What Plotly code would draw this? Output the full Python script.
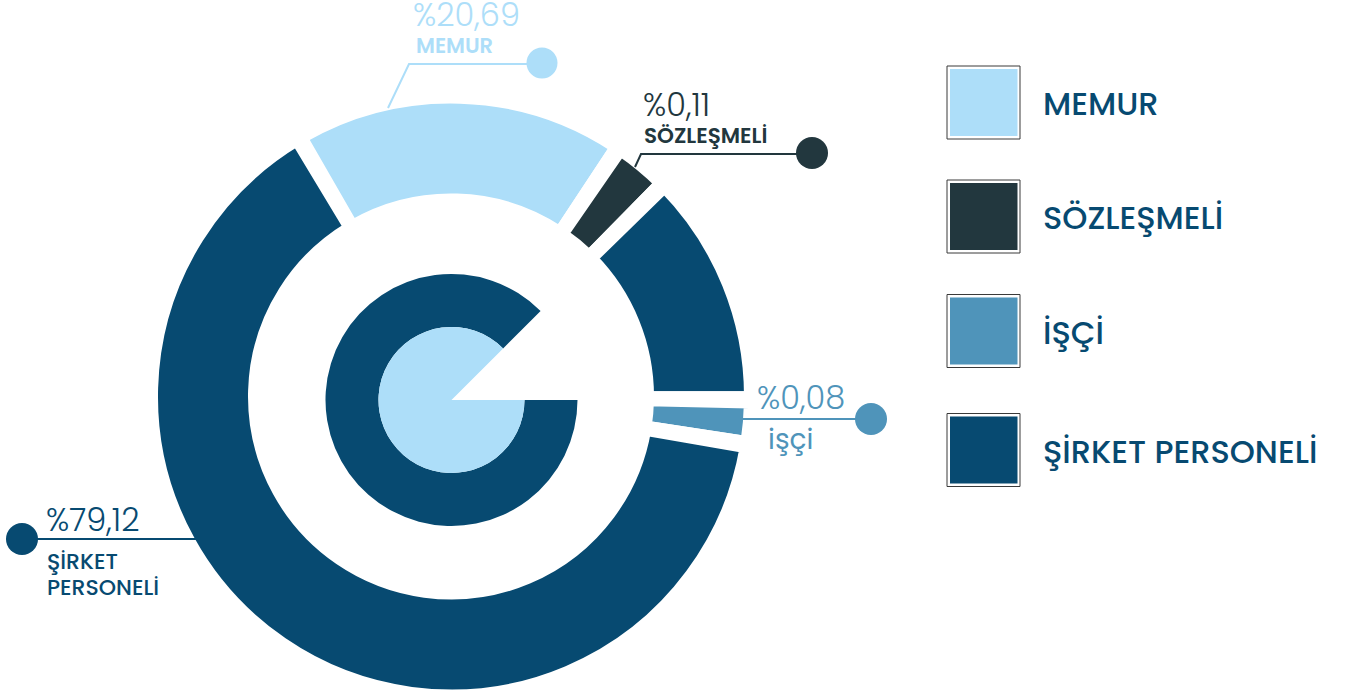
import plotly.graph_objects as go

W, H = 1350, 695

# ---------------- data ----------------
categories = ["MEMUR", "SÖZLEŞMELİ", "İŞÇİ", "ŞİRKET PERSONELİ"]
reported_pct = [20.69, 0.11, 0.08, 79.12]
pct_labels = ["%20,69", "%0,11", "%0,08", "%79,12"]

# outer ring as drawn, clockwise starting with the MEMUR segment (share of circle, %)
ring_segments = ["MEMUR", "SÖZLEŞMELİ", "ŞİRKET PERSONELİ", "İŞÇİ", "ŞİRKET PERSONELİ"]
ring_shares = [17.92, 3.06, 12.67, 2.39, 63.96]

# inner rings: filled part and open wedge (%)
inner_ring_shares = [87.5, 12.5]
inner_core_shares = [87.5, 12.5]

# ---------------- style ----------------
COLOR = {
    "MEMUR": "#addef9",
    "SÖZLEŞMELİ": "#22373e",
    "İŞÇİ": "#4f94ba",
    "ŞİRKET PERSONELİ": "#074a71",
}
CLEAR = "rgba(0,0,0,0)"
FONT = "Poppins, Open Sans, sans-serif"
GAP = 0.33          # transparent gap slice (% of circle)
STROKE = 11         # white separator stroke (px)


def px(x):
    return x / W


def py(y):
    return 1 - y / H


fig = go.Figure()

# outer ring
vals, cols = [], []
for seg, share in zip(ring_segments, ring_shares):
    vals += [GAP, share - GAP]
    cols += [CLEAR, COLOR[seg]]

ocx, ocy, oR = 451, 396.5, 298.5
fig.add_trace(go.Pie(
    values=vals, sort=False, direction="clockwise",
    rotation=-30.5 - GAP * 3.6 / 2,
    hole=(203 - STROKE / 2) / oR,
    marker=dict(colors=cols, line=dict(color="white", width=STROKE)),
    textinfo="none", hoverinfo="skip", showlegend=False,
    domain=dict(x=[px(ocx - oR), px(ocx + oR)], y=[max(0, py(ocy + oR)), py(ocy - oR)]),
))

# inner dark ring
icx, icy, iR, cR = 451.5, 400, 126, 73
fig.add_trace(go.Pie(
    values=inner_ring_shares, sort=False, direction="clockwise", rotation=90,
    hole=cR / iR,
    marker=dict(colors=[COLOR["ŞİRKET PERSONELİ"], CLEAR], line=dict(width=0)),
    textinfo="none", hoverinfo="skip", showlegend=False,
    domain=dict(x=[px(icx - iR), px(icx + iR)], y=[py(icy + iR), py(icy - iR)]),
))

# inner light core
fig.add_trace(go.Pie(
    values=inner_core_shares, sort=False, direction="clockwise", rotation=90,
    marker=dict(colors=[COLOR["MEMUR"], CLEAR], line=dict(width=0)),
    textinfo="none", hoverinfo="skip", showlegend=False,
    domain=dict(x=[px(icx - cR), px(icx + cR)], y=[py(icy + cR), py(icy - cR)]),
))

shapes = []
annotations = []


def ann(text, x, y, size, color, weight=400):
    annotations.append(dict(
        text=text, x=px(x), y=py(y), xref="paper", yref="paper",
        xanchor="left", yanchor="middle", showarrow=False,
        font=dict(family=FONT, size=size, color=color, weight=weight)))


def line(pts, color):
    path = "M " + " L ".join(f"{px(x)},{py(y)}" for x, y in pts)
    shapes.append(dict(type="path", path=path, xref="paper", yref="paper",
                       line=dict(color=color, width=2)))


def dot(cx, cy, r, color):
    shapes.append(dict(type="circle", xref="paper", yref="paper",
                       x0=px(cx - r), x1=px(cx + r), y0=py(cy + r), y1=py(cy - r),
                       fillcolor=color, line=dict(width=0)))


# callouts
c = COLOR["MEMUR"]
line([(388, 108), (409, 64), (535, 64)], c)
dot(542, 63, 15.5, c)
ann(pct_labels[0], 411, 15, 32, c, 300)
ann("MEMUR", 414, 45, 21, c, 600)

c = COLOR["SÖZLEŞMELİ"]
line([(635, 167), (641, 154), (805, 154)], c)
dot(812, 153, 16, c)
ann(pct_labels[1], 641, 105, 32, c, 300)
ann("SÖZLEŞMELİ", 642, 135, 21.5, c, 600)

c = COLOR["İŞÇİ"]
line([(743, 419), (865, 419)], c)
dot(871, 419, 16, c)
ann(pct_labels[2], 755, 398, 32, c, 300)
ann("işçi", 766, 439, 28, c, 400)

c = COLOR["ŞİRKET PERSONELİ"]
line([(22, 539), (196, 539)], c)
dot(22, 539, 16, c)
ann(pct_labels[3], 44, 519, 32, c, 300)
ann("ŞİRKET", 45, 561, 22, c, 500)
ann("PERSONELİ", 45, 587, 22, c, 500)

# legend
legend_y = [102.5, 216.5, 331, 450]
for cat, yc in zip(categories, legend_y):
    shapes.append(dict(type="rect", xref="paper", yref="paper",
                       x0=px(947), x1=px(1020), y0=py(yc + 36.5), y1=py(yc - 36.5),
                       fillcolor="white", line=dict(color="#3a3a3a", width=1)))
    shapes.append(dict(type="rect", xref="paper", yref="paper",
                       x0=px(950), x1=px(1017.5), y0=py(yc + 33.5), y1=py(yc - 33.5),
                       fillcolor=COLOR[cat], line=dict(width=0)))
    ann(cat, 1041, yc + 1, 32, COLOR["ŞİRKET PERSONELİ"], 500)

fig.update_layout(
    width=W, height=H, margin=dict(l=0, r=0, t=0, b=0),
    paper_bgcolor="white", plot_bgcolor="white",
    shapes=shapes, annotations=annotations, showlegend=False,
)

fig.write_html(
    "out.html",
    config={"displayModeBar": False},
    post_script="document.body.style.margin='0';document.body.style.overflow='hidden';",
)
